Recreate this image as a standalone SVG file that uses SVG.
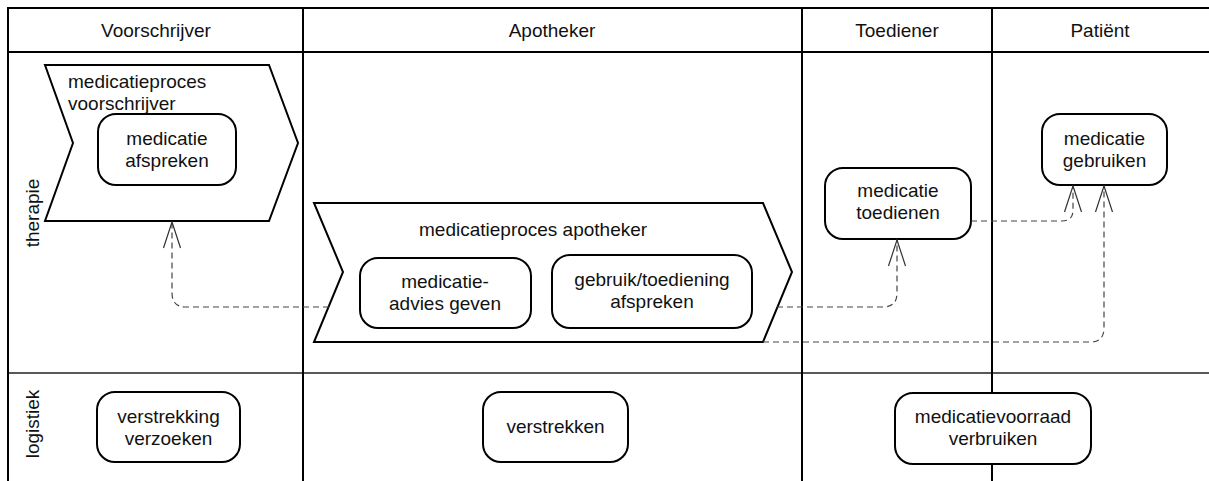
<svg xmlns="http://www.w3.org/2000/svg" width="1209" height="481" viewBox="0 0 1209 481">
<style>
.grid{stroke:#000;stroke-width:2;fill:none}
.lane{stroke:#222;stroke-width:1.5;fill:none}
.shape{fill:#fff;stroke:#000;stroke-width:2}
.box{fill:#fff;stroke:#000;stroke-width:2}
text{font-family:"Liberation Sans",Arial,sans-serif;font-size:19px;fill:#111}
.c{text-anchor:middle}
.conn{fill:none;stroke:#444;stroke-width:1.2;stroke-dasharray:6 4}
</style>
<defs>
<marker id="open" markerUnits="userSpaceOnUse" viewBox="-28 -10 30 20" refX="0" refY="0" markerWidth="30" markerHeight="20" orient="auto">
<path d="M -26 -8.5 L 0 0 L -26 8.5" fill="none" stroke="#333" stroke-width="1.2"/>
</marker>
</defs>
<g id="table">
<line class="grid" x1="8" y1="8" x2="1209" y2="8"/>
<line class="grid" x1="8" y1="52" x2="1209" y2="52"/>
<line class="lane" x1="8" y1="373" x2="1209" y2="373"/>
<line class="grid" x1="8" y1="7" x2="8" y2="481"/>
<line class="grid" x1="303" y1="7" x2="303" y2="481"/>
<line class="grid" x1="802" y1="7" x2="802" y2="481"/>
<line class="grid" x1="992" y1="7" x2="992" y2="481"/>
<text class="c" x="156" y="37">Voorschrijver</text>
<text class="c" x="552" y="37">Apotheker</text>
<text class="c" x="897" y="37">Toediener</text>
<text class="c" x="1100" y="37">Patiënt</text>
<text class="c" transform="translate(39,213) rotate(-90)">therapie</text>
<text class="c" transform="translate(39,424) rotate(-90)">logistiek</text>
</g>
<g id="proces-voorschrijver">
<polygon class="shape" points="45,65 269,65 298,143 269,221 45,221 73,143"/>
<text x="68" y="88">medicatieproces</text>
<text x="68" y="110">voorschrijver</text>
</g>
<g id="medicatie-afspreken">
<rect class="box" x="98" y="114" width="138" height="71" rx="18"/>
<text class="c" x="167" y="145">medicatie</text>
<text class="c" x="167" y="167">afspreken</text>
</g>
<g id="proces-apotheker">
<polygon class="shape" points="314,203 763,203 792,272 763,342 314,342 343,272"/>
<text x="419" y="236">medicatieproces apotheker</text>
</g>
<g id="medicatieadvies-geven">
<rect class="box" x="360" y="258" width="171" height="70" rx="18"/>
<text class="c" x="445" y="288">medicatie-</text>
<text class="c" x="445" y="310">advies geven</text>
</g>
<g id="gebruik-toediening-afspreken">
<rect class="box" x="552" y="255" width="200" height="73" rx="18"/>
<text class="c" x="652" y="286">gebruik/toediening</text>
<text class="c" x="652" y="308">afspreken</text>
</g>
<g id="medicatie-toedienen">
<rect class="box" x="825" y="168" width="146" height="71" rx="18"/>
<text class="c" x="898" y="197">medicatie</text>
<text class="c" x="898" y="219">toedienen</text>
</g>
<g id="medicatie-gebruiken">
<rect class="box" x="1042" y="114" width="125" height="71" rx="18"/>
<text class="c" x="1104.5" y="145">medicatie</text>
<text class="c" x="1104.5" y="167">gebruiken</text>
</g>
<g id="verstrekking-verzoeken">
<rect class="box" x="97" y="392" width="143" height="70" rx="18"/>
<text class="c" x="168.5" y="423">verstrekking</text>
<text class="c" x="168.5" y="445">verzoeken</text>
</g>
<g id="verstrekken">
<rect class="box" x="483" y="392" width="145" height="70" rx="18"/>
<text class="c" x="555.5" y="433">verstrekken</text>
</g>
<g id="medicatievoorraad-verbruiken">
<rect class="box" x="895" y="393" width="196" height="71" rx="18"/>
<text class="c" x="993" y="423">medicatievoorraad</text>
<text class="c" x="993" y="445">verbruiken</text>
</g>
<g id="connectors">
<path class="conn" marker-end="url(#open)" d="M 329 307 L 186 307 Q 172 307 172 293 L 172 222"/>
<path class="conn" marker-end="url(#open)" d="M 777 307 L 883 307 Q 897 307 897 293 L 897 240"/>
<path class="conn" marker-end="url(#open)" d="M 971 221 L 1062 221 Q 1073 221 1073 210 L 1073 186"/>
<path class="conn" marker-end="url(#open)" d="M 763 342 L 1090 342 Q 1104 342 1104 328 L 1104 186"/>
</g>
</svg>
